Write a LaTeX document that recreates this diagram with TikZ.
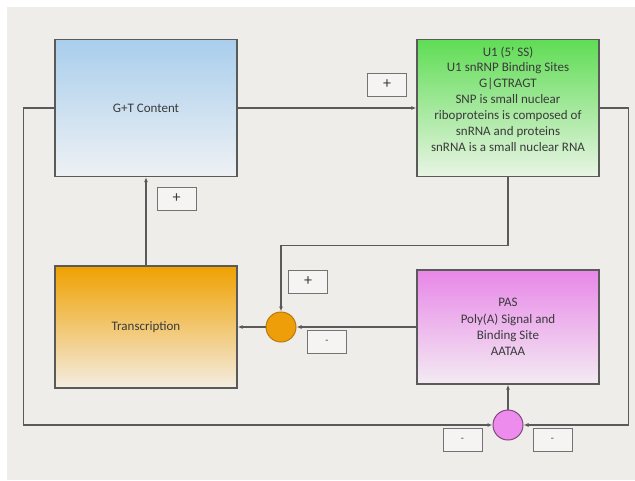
\documentclass[tikz,border=0pt]{standalone}
\usepackage{fontspec}
\setmainfont{Carlito}
\usetikzlibrary{arrows.meta}
\definecolor{paper}{HTML}{EFEDEA}
\definecolor{edge}{HTML}{5A5A5A}
\definecolor{ink}{HTML}{3A3A3A}
\definecolor{blueTop}{HTML}{A9CEEC}
\definecolor{blueBot}{HTML}{EEF1F4}
\definecolor{greenTop}{HTML}{5FDD55}
\definecolor{greenBot}{HTML}{E9F4E4}
\definecolor{orangeTop}{HTML}{EFA100}
\definecolor{orangeBot}{HTML}{F4EDE2}
\definecolor{pinkTop}{HTML}{E887E8}
\definecolor{pinkBot}{HTML}{F3EBF2}
\definecolor{orangeDot}{HTML}{EE9E08}
\definecolor{orangeRim}{HTML}{B97A10}
\definecolor{pinkDot}{HTML}{EE8CEE}
\definecolor{pinkRim}{HTML}{7E4A7E}
\begin{document}
\begin{tikzpicture}[x=1pt,y=-1pt,
  block/.style={draw=edge, line width=1.3pt, minimum width=182pt, inner sep=0pt},
  txt/.style={text=ink, align=center, font=\fontsize{13}{15.9}\selectfont},
  sign/.style={draw=edge!85, line width=0.9pt, fill=paper!60!white, minimum width=39pt,
    minimum height=23pt, inner sep=0pt, text=ink, font=\fontsize{16}{16}\selectfont},
  dot/.style={circle, line width=1pt, minimum size=30pt, inner sep=0pt},
  conn/.style={draw=edge, line width=1.2pt, -{Latex[length=5pt,width=4pt]}}]
\useasboundingbox (0,0) rectangle (635,480);
\fill[white] (0,0) rectangle (635,480);
\fill[paper] (7,7) rectangle (635,480);

% the four blocks
\node[block, minimum height=137pt, top color=blueTop, bottom color=blueBot] (gt) at (146,108) {};
\node[txt] (gtlabel) at (146,108) {G+T Content};
\node[block, minimum height=137pt, top color=greenTop, bottom color=greenBot] (u1) at (508,108) {};
\node[txt] (u1label) at (508,99) {U1 (5' SS)\\U1 snRNP Binding Sites\\G|GTRAGT\\SNP is small nuclear\\riboproteins is composed of\\snRNA and proteins\\snRNA is a small nuclear RNA};
\node[block, minimum height=122pt, top color=orangeTop, bottom color=orangeBot] (tr) at (146,327) {};
\node[txt] (trlabel) at (146,327) {Transcription};
\node[block, minimum height=114pt, top color=pinkTop, bottom color=pinkBot] (pas) at (508,327) {};
\node[txt, font=\fontsize{13}{16.3}\selectfont] (paslabel) at (508,327) {PAS\\Poly(A) Signal and\\Binding Site\\AATAA};

% summing junctions
\node[dot, draw=orangeRim, fill=orangeDot] (sumA) at (281,327) {};
\node[dot, draw=pinkRim, fill=pinkDot] (sumB) at (508,425) {};

% signal paths
\draw[conn] (gt.east) -- (u1.west);
\draw[conn] (tr.north) -- (gt.south);
\draw[conn] (u1.south) -- ++(0,68) -| (sumA.north);
\draw[conn] (pas.west) -- (sumA.east);
\draw[conn] (sumA.west) -- (tr.east);
\draw[conn] (sumB.north) -- (pas.south);
\draw[conn] (gt.west) -- ++(-31,0) |- (sumB.west);
\draw[conn] (u1.east) -- ++(29,0) |- (sumB.east);

% signs
\node[sign] (s1) at (387,84.5) {+};
\node[sign] (s2) at (176.5,198.5) {+};
\node[sign] (s3) at (308,281.5) {+};
\node[sign, font=\fontsize{10}{10}\selectfont] (s4) at (327,342) {-};
\node[sign, font=\fontsize{10}{10}\selectfont] (s5) at (462.5,440) {-};
\node[sign, font=\fontsize{10}{10}\selectfont] (s6) at (552.5,440) {-};
\end{tikzpicture}
\end{document}
